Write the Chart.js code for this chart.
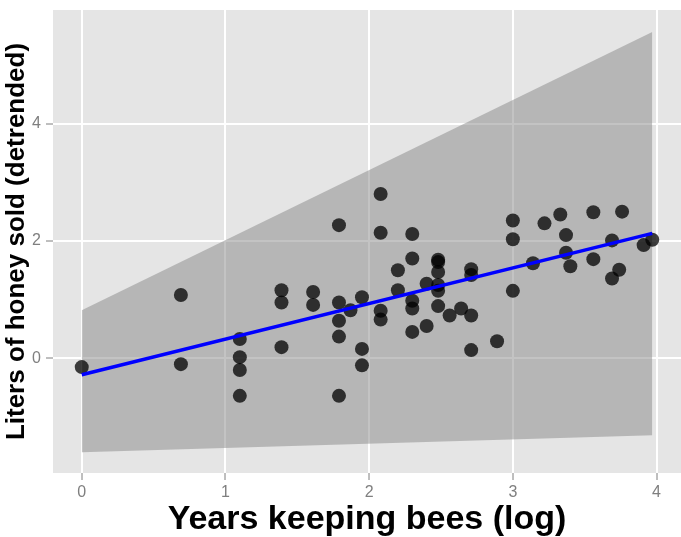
<!DOCTYPE html>
<html>
<head>
<meta charset="utf-8">
<script src="https://cdn.jsdelivr.net/npm/chart.js@4/dist/chart.umd.min.js"></script>
<style>
  body { margin: 0; background: #fff; }
  canvas { display: block; }
</style>
</head>
<body>
<canvas id="beesChart" width="681" height="537"></canvas>
<script>
// years keeping bees (log) and honey sold (detrended)
var yearsLog = [0, 0.69, 0.69, 1.10, 1.10, 1.10, 1.10, 1.39, 1.39, 1.39, 1.61, 1.61,
  1.79, 1.79, 1.79, 1.79, 1.79, 1.87, 1.95, 1.95, 1.95, 2.08, 2.08, 2.08, 2.08,
  2.20, 2.20, 2.30, 2.30, 2.30, 2.30, 2.30, 2.40, 2.40, 2.48, 2.48, 2.48, 2.48,
  2.48, 2.48, 2.56, 2.64, 2.71, 2.71, 2.71, 2.71, 2.89, 3.00, 3.00, 3.00, 3.14,
  3.22, 3.33, 3.37, 3.37, 3.40, 3.56, 3.56, 3.69, 3.69, 3.74, 3.76, 3.91, 3.97];
var honey = [-0.15, 1.08, -0.10, 0.33, 0.02, -0.20, -0.64, 1.16, 0.95, 0.19, 1.13, 0.91,
  2.27, 0.95, 0.64, 0.37, -0.64, 0.82, 1.04, 0.16, -0.12, 2.80, 2.14, 0.81, 0.66,
  1.50, 1.16, 2.12, 1.70, 0.98, 0.85, 0.45, 1.27, 0.55, 1.68, 1.64, 1.47, 1.25,
  1.15, 0.89, 0.73, 0.85, 1.52, 1.42, 0.73, 0.14, 0.29, 2.35, 2.03, 1.15, 1.62,
  2.30, 2.45, 2.10, 1.80, 1.57, 2.49, 1.69, 2.01, 1.36, 1.51, 2.50, 1.93, 2.02];

// fitted line and shaded interval (ends)
var fitX = [0, 3.97];
var fitY = [-0.28, 2.13];
var bandUpper = [0.82, 5.56];
var bandLower = [-1.60, -1.31];

var xTicksMajor = [0, 1, 2, 3, 4];
var yTicksMajor = [0, 2, 4];

function pairs(xs, ys) {
  return xs.map(function (x, i) { return { x: x, y: ys[i] }; });
}

function isMajor(list, v) {
  return list.some(function (m) { return Math.abs(m - v) < 1e-6; });
}

// grey panel behind the plot
var panelBg = {
  id: 'panelBg',
  beforeDraw: function (chart) {
    var a = chart.chartArea, ctx = chart.ctx;
    ctx.save();
    ctx.fillStyle = '#e5e5e5';
    ctx.fillRect(a.left, a.top, a.right - a.left, a.bottom - a.top);
    ctx.restore();
  }
};

function noPad(s) {
  s.paddingLeft = 0; s.paddingRight = 0; s.paddingTop = 0; s.paddingBottom = 0;
}

var fontFam = "'Liberation Sans', Arial, sans-serif";

new Chart(document.getElementById('beesChart'), {
  type: 'scatter',
  data: {
    datasets: [
      {
        label: 'fit',
        data: pairs(fitX, fitY),
        showLine: true,
        borderColor: '#0000ff',
        borderWidth: 3.5,
        pointRadius: 0,
        fill: false
      },
      {
        label: 'honey',
        data: pairs(yearsLog, honey),
        backgroundColor: 'rgba(0,0,0,0.75)',
        borderWidth: 0,
        pointRadius: 7,
        pointHoverRadius: 7
      },
      {
        label: 'upper',
        data: pairs(fitX, bandUpper),
        showLine: true,
        borderWidth: 0,
        borderColor: 'rgba(0,0,0,0)',
        pointRadius: 0,
        backgroundColor: 'rgba(135,135,135,0.5)',
        fill: '+1'
      },
      {
        label: 'lower',
        data: pairs(fitX, bandLower),
        showLine: true,
        borderWidth: 0,
        borderColor: 'rgba(0,0,0,0)',
        pointRadius: 0,
        fill: false
      }
    ]
  },
  options: {
    responsive: false,
    animation: false,
    layout: { autoPadding: false, padding: { top: 10, right: 0, left: 0, bottom: 0 } },
    plugins: {
      legend: { display: false },
      tooltip: { enabled: false }
    },
    scales: {
      x: {
        type: 'linear',
        min: -0.2,
        max: 4.17,
        border: { display: false },
        afterFit: function (s) { s.height = 64; noPad(s); },
        ticks: {
          stepSize: 0.5,
          includeBounds: false,
          padding: 3,
          color: '#7f7f7f',
          font: { family: fontFam, size: 16 },
          maxRotation: 0,
          autoSkip: false,
          callback: function (v) { return isMajor(xTicksMajor, v) ? String(v) : null; }
        },
        grid: {
          drawTicks: true,
          tickLength: 7,
          tickWidth: 1,
          tickColor: function (c) { return isMajor(xTicksMajor, c.tick.value) ? '#7f7f7f' : 'rgba(0,0,0,0)'; },
          color: function (c) { return isMajor(xTicksMajor, c.tick.value) ? '#ffffff' : '#f2f2f2'; },
          lineWidth: function (c) { return isMajor(xTicksMajor, c.tick.value) ? 2 : 1; }
        },
        title: {
          display: true,
          text: 'Years keeping bees (log)',
          color: '#000',
          font: { family: fontFam, size: 34, weight: 'bold', lineHeight: 1 },
          padding: { top: 0, bottom: 0 }
        }
      },
      y: {
        type: 'linear',
        min: -1.955,
        max: 5.937,
        border: { display: false },
        afterFit: function (s) { s.width = 53; noPad(s); },
        ticks: {
          stepSize: 1,
          includeBounds: false,
          padding: 5,
          color: '#7f7f7f',
          font: { family: fontFam, size: 16 },
          autoSkip: false,
          callback: function (v) { return isMajor(yTicksMajor, v) ? String(v) : null; }
        },
        grid: {
          drawTicks: true,
          tickLength: 7,
          tickWidth: 1,
          tickColor: function (c) { return isMajor(yTicksMajor, c.tick.value) ? '#7f7f7f' : 'rgba(0,0,0,0)'; },
          color: function (c) { return isMajor(yTicksMajor, c.tick.value) ? '#ffffff' : '#f2f2f2'; },
          lineWidth: function (c) { return isMajor(yTicksMajor, c.tick.value) ? 2 : 1; }
        },
        title: {
          display: true,
          text: 'Liters of honey sold (detrended)',
          color: '#000',
          font: { family: fontFam, size: 26, weight: 'bold', lineHeight: 1 },
          padding: { top: 4, bottom: 0 }
        }
      }
    }
  },
  plugins: [panelBg]
});
</script>
</body>
</html>
